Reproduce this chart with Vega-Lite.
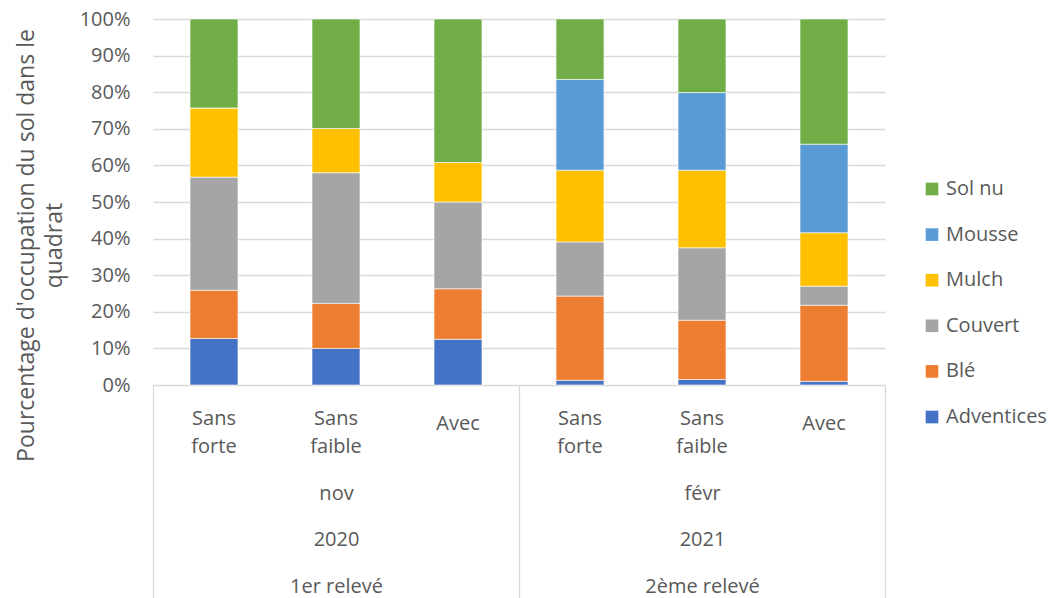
{
  "$schema": "https://vega.github.io/schema/vega-lite/v6.json",
  "width": 732,
  "height": 366,
  "autosize": {"type": "none"},
  "padding": {"left": 153, "top": 19, "right": 169, "bottom": 213},
  "background": "white",
  "config": {
    "view": {"stroke": null},
    "font": "Open Sans",
    "axis": {"labelFont": "Open Sans", "titleFont": "Open Sans", "labelColor": "#595959", "titleColor": "#595959"},
    "legend": {"labelFont": "Open Sans", "labelColor": "#595959"}
  },
  "layer": [
    {
      "data": {
        "values": [
          {"bar": "n1", "cat": "Adventices", "rank": 1, "v": 12.7},
          {"bar": "n1", "cat": "Blé", "rank": 2, "v": 13.2},
          {"bar": "n1", "cat": "Couvert", "rank": 3, "v": 30.9},
          {"bar": "n1", "cat": "Mulch", "rank": 4, "v": 18.9},
          {"bar": "n1", "cat": "Mousse", "rank": 5, "v": 0},
          {"bar": "n1", "cat": "Sol nu", "rank": 6, "v": 24.3},
          {"bar": "n2", "cat": "Adventices", "rank": 1, "v": 10.0},
          {"bar": "n2", "cat": "Blé", "rank": 2, "v": 12.3},
          {"bar": "n2", "cat": "Couvert", "rank": 3, "v": 35.7},
          {"bar": "n2", "cat": "Mulch", "rank": 4, "v": 12.1},
          {"bar": "n2", "cat": "Mousse", "rank": 5, "v": 0},
          {"bar": "n2", "cat": "Sol nu", "rank": 6, "v": 29.9},
          {"bar": "n3", "cat": "Adventices", "rank": 1, "v": 12.5},
          {"bar": "n3", "cat": "Blé", "rank": 2, "v": 13.8},
          {"bar": "n3", "cat": "Couvert", "rank": 3, "v": 23.7},
          {"bar": "n3", "cat": "Mulch", "rank": 4, "v": 10.8},
          {"bar": "n3", "cat": "Mousse", "rank": 5, "v": 0},
          {"bar": "n3", "cat": "Sol nu", "rank": 6, "v": 39.2},
          {"bar": "f1", "cat": "Adventices", "rank": 1, "v": 1.3},
          {"bar": "f1", "cat": "Blé", "rank": 2, "v": 23.0},
          {"bar": "f1", "cat": "Couvert", "rank": 3, "v": 14.8},
          {"bar": "f1", "cat": "Mulch", "rank": 4, "v": 19.6},
          {"bar": "f1", "cat": "Mousse", "rank": 5, "v": 24.8},
          {"bar": "f1", "cat": "Sol nu", "rank": 6, "v": 16.5},
          {"bar": "f2", "cat": "Adventices", "rank": 1, "v": 1.5},
          {"bar": "f2", "cat": "Blé", "rank": 2, "v": 16.2},
          {"bar": "f2", "cat": "Couvert", "rank": 3, "v": 19.8},
          {"bar": "f2", "cat": "Mulch", "rank": 4, "v": 21.2},
          {"bar": "f2", "cat": "Mousse", "rank": 5, "v": 21.2},
          {"bar": "f2", "cat": "Sol nu", "rank": 6, "v": 20.1},
          {"bar": "f3", "cat": "Adventices", "rank": 1, "v": 1.0},
          {"bar": "f3", "cat": "Blé", "rank": 2, "v": 20.8},
          {"bar": "f3", "cat": "Couvert", "rank": 3, "v": 5.2},
          {"bar": "f3", "cat": "Mulch", "rank": 4, "v": 14.6},
          {"bar": "f3", "cat": "Mousse", "rank": 5, "v": 24.2},
          {"bar": "f3", "cat": "Sol nu", "rank": 6, "v": 34.2}
        ]
      },
      "mark": {"type": "bar", "stroke": "white", "strokeWidth": 0.6},
      "encoding": {
        "x": {
          "field": "bar",
          "type": "nominal",
          "sort": ["n1", "n2", "n3", "f1", "f2", "f3"],
          "scale": {"paddingInner": 0.607, "paddingOuter": 0.3035},
          "axis": {
            "title": null,
            "domain": false,
            "ticks": false,
            "labelAngle": 0,
            "labelFontSize": 20,
            "labelLineHeight": 28,
            "labelPadding": {"condition": {"test": "datum.value == 'n3' || datum.value == 'f3'", "value": 28}, "value": 23.5},
            "labelBaseline": "top",
            "labelOverlap": false,
            "labelBound": false,
            "labelExpr": "datum.value == 'n1' || datum.value == 'f1' ? ['Sans','forte'] : datum.value == 'n2' || datum.value == 'f2' ? ['Sans','faible'] : ['Avec']"
          }
        },
        "y": {
          "field": "v",
          "type": "quantitative",
          "stack": "normalize",
          "scale": {"domain": [0, 1]},
          "axis": {
            "title": ["Pourcentage d'occupation du sol dans le", "quadrat"],
            "titleFontSize": 23,
            "titleFontWeight": "normal",
            "titleLineHeight": 28,
            "titleAngle": 270,
            "titleBaseline": "middle",
            "titleAlign": "center",
            "titleX": -127,
            "titleY": 226,
            "format": ".0%",
            "values": [0, 0.1, 0.2, 0.3, 0.4, 0.5, 0.6, 0.7, 0.8, 0.9, 1],
            "labelFontSize": 20,
            "labelPadding": 23,
            "domain": false,
            "ticks": false,
            "gridColor": "#d9d9d9",
            "gridWidth": 1.3
          }
        },
        "color": {
          "field": "cat",
          "type": "nominal",
          "scale": {
            "domain": ["Sol nu", "Mousse", "Mulch", "Couvert", "Blé", "Adventices"],
            "range": ["#70AD47", "#5B9BD5", "#FFC000", "#A5A5A5", "#ED7D31", "#4472C4"]
          },
          "legend": {
            "title": null,
            "orient": "none",
            "legendX": 769,
            "legendY": 160,
            "symbolType": "square",
            "symbolSize": 160,
            "symbolStrokeWidth": 0,
            "labelFontSize": 20,
            "labelOffset": 4,
            "rowPadding": 25.6
          }
        },
        "order": {"field": "rank", "type": "quantitative"}
      }
    },
    {
      "data": {"values": [{"g": 0}, {"g": 1}, {"g": 2}]},
      "mark": {"type": "point", "opacity": 0},
      "encoding": {
        "x": {
          "field": "g",
          "type": "quantitative",
          "scale": {"domain": [0, 2], "nice": false, "zero": false},
          "axis": {
            "orient": "bottom",
            "values": [0, 1, 2],
            "labels": false,
            "domain": false,
            "grid": false,
            "ticks": true,
            "tickSize": 215,
            "tickColor": "#d9d9d9",
            "tickWidth": 1.3,
            "title": null
          }
        }
      }
    },
    {
      "data": {"values": [{"grp": 0.5, "mois": "nov", "annee": "2020", "releve": "1er relevé"}, {"grp": 1.5, "mois": "févr", "annee": "2021", "releve": "2ème relevé"}]},
      "mark": {"type": "point", "opacity": 0},
      "encoding": {
        "x": {
          "field": "grp",
          "type": "quantitative",
          "scale": {"domain": [0, 2], "nice": false, "zero": false},
          "axis": {
            "orient": "bottom",
            "values": [0.5, 1.5],
            "labels": true,
            "domain": false,
            "grid": false,
            "ticks": false,
            "labelFontSize": 20,
            "labelLineHeight": 46.7,
            "labelPadding": 98,
            "labelBaseline": "top",
            "labelOverlap": false,
            "labelBound": false,
            "labelFlush": false,
            "labelExpr": "datum.value == 0.5 ? ['nov','2020','1er relevé'] : ['févr','2021','2ème relevé']",
            "title": null
          }
        }
      }
    }
  ],
  "resolve": {"scale": {"x": "independent"}, "axis": {"x": "independent"}}
}
